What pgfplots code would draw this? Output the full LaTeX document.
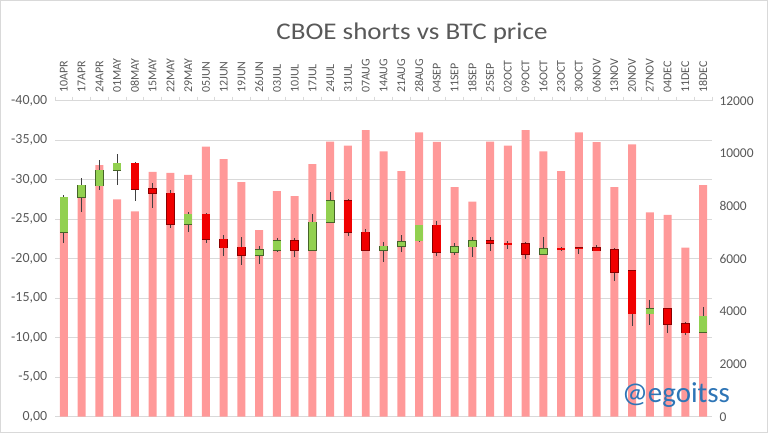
\documentclass[border=0pt]{standalone}
\usepackage{pgfplots}
\usepackage{pgfplotstable}
\pgfplotsset{compat=1.18}
\usepackage{fontspec}
\setmainfont{Carlito}
\definecolor{txt}{RGB}{89,89,89}
\definecolor{gridc}{RGB}{217,217,217}
\definecolor{barc}{RGB}{255,153,153}
\definecolor{cg}{RGB}{146,208,80}
\definecolor{cgedge}{RGB}{70,100,40}
\definecolor{cr}{RGB}{240,0,0}
\definecolor{credge}{RGB}{140,0,0}
\definecolor{wick}{RGB}{64,64,64}
\definecolor{markc}{RGB}{46,117,182}
\pgfplotsset{base/.style={scale only axis, width=657bp, height=316bp, at={(55bp,16.3bp)}, anchor=south west, xmin=-0.5, xmax=36.5},
  ebar/.style 2 args={draw=none, mark=none, error bars/.cd, y dir=both, y explicit, error mark=none, error bar style={draw=#1, line width=#2}}}
% candles: x, low (wick end), body low, body high, high (wick end)
\pgfplotstableread{
x lo bl bh hi
0 -28.06 -27.77 -23.34 -21.95
1 -30.18 -29.29 -27.77 -25.95
2 -32.49 -31.19 -29.24 -28.70
3 -33.22 -32.08 -31.19 -29.33
7 -25.95 -25.62 -24.39 -23.42
11 -21.60 -21.10 -20.43 -19.29
12 -22.66 -22.28 -21.10 -20.81
14 -25.62 -24.61 -21.10 -21.00
15 -28.40 -27.30 -24.61 -24.48
18 -22.15 -21.57 -21.06 -19.54
19 -22.96 -22.11 -21.57 -20.81
20 -24.30 -24.22 -22.28 -22.15
22 -21.95 -21.52 -20.81 -20.47
23 -22.70 -22.24 -21.52 -20.18
27 -22.70 -21.27 -20.60 -20.47
33 -14.77 -13.67 -13.04 -11.61
36 -13.85 -12.71 -10.68 -10.60
}\greenc
\pgfplotstableread{
x lo bl bh hi
4 -32.20 -32.08 -28.82 -27.30
5 -29.54 -28.82 -28.28 -26.38
6 -28.70 -28.28 -24.39 -23.92
8 -25.82 -25.62 -22.46 -21.95
9 -23.00 -22.46 -21.39 -20.34
10 -22.78 -21.44 -20.43 -19.20
13 -22.66 -22.28 -21.10 -20.18
16 -27.52 -27.30 -23.34 -22.91
17 -23.76 -23.34 -21.06 -21.00
21 -24.77 -24.22 -20.81 -20.34
24 -22.71 -22.28 -21.95 -21.01
25 -22.28 -21.95 -21.86 -21.23
26 -22.15 -21.86 -20.60 -19.96
28 -21.50 -21.32 -21.22 -21.00
29 -21.45 -21.40 -21.32 -20.60
30 -21.73 -21.36 -21.01 -20.95
31 -21.32 -21.10 -18.28 -17.22
32 -18.50 -18.44 -13.04 -11.48
34 -13.70 -13.63 -11.73 -10.63
35 -11.99 -11.73 -10.63 -10.38
}\redc
\pgfplotstableread{
x price
0 7500
1 8500
2 9550
3 8250
4 7800
5 9300
6 9260
7 9180
8 10260
9 9780
10 8910
11 7085
12 8570
13 8375
14 9590
15 10450
16 10290
17 10880
18 10080
19 9330
20 10800
21 10440
22 8720
23 8170
24 10450
25 10290
26 10880
27 10080
28 9330
29 10800
30 10430
31 8720
32 10340
33 7760
34 7660
35 6420
36 8790
}\btc
\begin{document}
\begin{tikzpicture}
\path[use as bounding box] (0,0) rectangle (768bp,433bp);
\draw[gridc, line width=0.75pt] (0.4bp,0.4bp) rectangle (767.6bp,432.6bp);
% left scale: grid, labels, category axis
\begin{axis}[base, ymin=-40, ymax=0, y dir=reverse,
  ytick={-40,-35,...,0}, ymajorgrids, grid style={gridc, line width=0.75pt},
  axis y line*=left, y axis line style={draw=none}, ytick style={draw=none},
  axis x line*=top, x axis line style={gridc, line width=0.75pt, -},
  xtick={0,...,36},
  xticklabels={10APR,17APR,24APR,01MAY,08MAY,15MAY,22MAY,29MAY,05JUN,12JUN,19JUN,26JUN,03JUL,10JUL,17JUL,24JUL,31JUL,07AUG,14AUG,21AUG,28AUG,04SEP,11SEP,18SEP,25SEP,02OCT,09OCT,16OCT,23OCT,30OCT,06NOV,13NOV,20NOV,27NOV,04DEC,11DEC,18DEC},
  major x tick style={draw=none},
  minor xtick={-0.5,0.5,...,36.5}, minor x tick style={gridc, line width=0.75pt},
  minor tick length=4bp, tick align=outside,
  xticklabel style={rotate=90, anchor=west, font=\fontsize{12}{14}\selectfont, text=txt},
  yticklabel style={font=\fontsize{14}{16}\selectfont, text=txt},
  /pgf/number format/.cd, fixed, fixed zerofill, precision=2, use comma, assume math mode=true]
\end{axis}
% right scale: BTC price bars
\begin{axis}[base, ymin=0, ymax=12000, axis y line*=right, axis x line=none,
  y axis line style={draw=none}, ytick={0,2000,...,12000}, ytick style={draw=none},
  scaled y ticks=false,
  yticklabel style={font=\fontsize{13.5}{15}\selectfont, text=txt, xshift=4bp},
  /pgf/number format/1000 sep={}, /pgf/number format/assume math mode=true]
\addplot[ybar, bar width=0.45, fill=barc, draw=none] table[x=x, y=price] {\btc};
\end{axis}
% left scale: candles
\begin{axis}[base, ymin=-40, ymax=0, y dir=reverse, axis lines=none, ticks=none]
% wicks
\addplot[ebar={wick}{0.8pt}] table[x=x, y expr={(\thisrow{lo}+\thisrow{hi})/2}, y error expr={(\thisrow{hi}-\thisrow{lo})/2}] {\greenc};
\addplot[ebar={wick}{0.8pt}] table[x=x, y expr={(\thisrow{lo}+\thisrow{hi})/2}, y error expr={(\thisrow{hi}-\thisrow{lo})/2}] {\redc};
% body outlines
\addplot[ebar={cgedge}{8.6bp}] table[x=x, y expr={(\thisrow{bl}+\thisrow{bh})/2}, y error expr={(\thisrow{bh}-\thisrow{bl})/2+0.07}] {\greenc};
\addplot[ebar={credge}{8.6bp}] table[x=x, y expr={(\thisrow{bl}+\thisrow{bh})/2}, y error expr={(\thisrow{bh}-\thisrow{bl})/2+0.07}] {\redc};
% body fills
\addplot[ebar={cg}{7.5bp}] table[x=x, y expr={(\thisrow{bl}+\thisrow{bh})/2}, y error expr={(\thisrow{bh}-\thisrow{bl})/2}] {\greenc};
\addplot[ebar={cr}{7.5bp}] table[x=x, y expr={(\thisrow{bl}+\thisrow{bh})/2}, y error expr={(\thisrow{bh}-\thisrow{bl})/2}] {\redc};
\end{axis}
\node[font=\fontsize{24}{28}\selectfont, text=txt, anchor=base, xscale=1.13] at (412bp,393bp) {CBOE shorts vs BTC price};
\node[font=\fontsize{29}{32}\selectfont, text=markc, anchor=base] at (676bp,30.3bp) {@egoitss};
\end{tikzpicture}
\end{document}
